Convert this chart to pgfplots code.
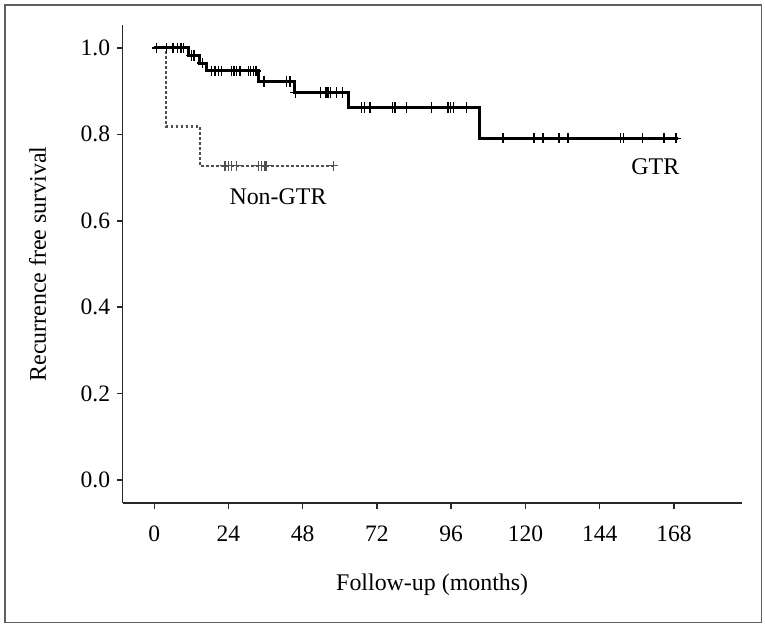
\documentclass[border=0pt]{standalone}
\usepackage{fontspec}
\setmainfont{Liberation Serif}
\usepackage{pgfplots}
\usepackage{pgfplotstable}
\pgfplotsset{compat=1.18}
\definecolor{framegray}{RGB}{95,95,95}
\definecolor{axisgray}{RGB}{40,40,40}
\definecolor{nongtr}{RGB}{80,80,80}

\pgfplotstableread{
t S
0 1
11.2 0.982
14.5 0.965
16.9 0.947
33.8 0.922
45.2 0.897
62.8 0.862
105.0 0.791
169.2 0.791
}\gtrcurve

\pgfplotstableread{
t S
0.8 1
4.0 1
6.0 1
7.6 1
8.6 1
9.4 1
12.1 0.982
12.9 0.982
15.5 0.965
18.5 0.947
19.6 0.947
20.7 0.947
21.8 0.947
25.0 0.947
25.8 0.947
26.6 0.947
27.7 0.947
30.4 0.947
31.2 0.947
32.0 0.947
32.9 0.947
35.5 0.922
42.8 0.922
43.9 0.922
45.7 0.897
53.8 0.897
55.5 0.897
56.2 0.897
57.0 0.897
59.0 0.897
60.9 0.897
67.0 0.862
67.9 0.862
69.7 0.862
77.1 0.862
77.8 0.862
81.6 0.862
89.7 0.862
95.0 0.862
95.8 0.862
96.7 0.862
101.0 0.862
112.8 0.791
122.8 0.791
125.7 0.791
130.9 0.791
133.8 0.791
150.7 0.791
151.6 0.791
157.9 0.791
164.8 0.791
168.6 0.791
}\gtrcens

\pgfplotstableread{
t S
0 1
3.8 0.818
14.8 0.727
57.9 0.727
}\ngcurve

\pgfplotstableread{
t S
22.9 0.727
23.9 0.727
25.0 0.727
26.6 0.727
33.6 0.727
34.7 0.727
35.8 0.727
36.3 0.727
57.9 0.727
}\ngcens

\begin{document}
\begin{tikzpicture}
\path[use as bounding box] (-61.35bp,-62.5bp) rectangle (321.15bp,251.5bp);
\draw[line width=0.75bp, color=framegray] (-58.85bp,-59.85bp) rectangle (319.5bp,249bp);
\begin{axis}[
  at={(0,0)}, anchor=south west,
  scale only axis, width=309.5bp, height=239bp,
  xmin=-10.2, xmax=189.9, ymin=-0.053, ymax=1.053,
  axis x line*=bottom, axis y line*=left,
  axis line style={-, line width=0.75bp, color=axisgray},
  tick align=outside, major tick length=2.8bp,
  every tick/.style={line width=0.75bp, color=axisgray},
  xtick={0,24,48,72,96,120,144,168},
  ytick={0,0.2,0.4,0.6,0.8,1.0},
  yticklabel style={/pgf/number format/.cd, fixed, fixed zerofill, precision=1},
  xticklabel style={yshift=-5bp},
  /pgf/number format/assume math mode=true,
  tick label style={font=\fontsize{11.8}{13}\selectfont},
  xlabel={Follow-up (months)},
  ylabel={Recurrence free survival},
  every axis x label/.style={at={(axis description cs:0.5,0)}, yshift=-41bp, anchor=center, font=\fontsize{12}{14}\selectfont},
  every axis y label/.style={at={(axis description cs:0,0.5)}, xshift=-42.6bp, rotate=90, anchor=center, font=\fontsize{12}{14}\selectfont},
  clip=false,
]
\addplot[const plot, color=nongtr, line width=1.3bp, dash pattern=on 1.2bp off 1.3bp] table[x=t,y=S] {\ngcurve};
\addplot[only marks, mark=+, mark size=2.4bp, color=nongtr, mark options={line width=0.6bp, solid}] table[x=t,y=S] {\ngcens};
\addplot[const plot, color=black, line width=1.5bp] table[x=t,y=S] {\gtrcurve};
\addplot[only marks, mark=+, mark size=2.6bp, color=black, mark options={line width=0.7bp}] table[x=t,y=S] {\gtrcens};
\node[font=\fontsize{12}{14}\selectfont] at (axis cs:40,0.655) {Non-GTR};
\node[font=\fontsize{12}{14}\selectfont] at (axis cs:162,0.726) {GTR};
\end{axis}
\end{tikzpicture}
\end{document}
